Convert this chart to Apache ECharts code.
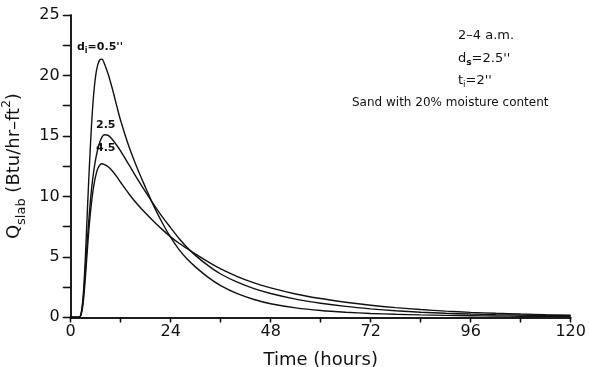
<!DOCTYPE html>
<html>
<head>
<meta charset="utf-8">
<script src="https://cdn.jsdelivr.net/npm/echarts@6/dist/echarts.min.js"></script>
<style>
  html, body { margin: 0; padding: 0; background: #fff; }
  #chart { width: 589px; height: 367px; }
</style>
</head>
<body>
<div id="chart"></div>
<script>
// Time after start (hours)
var hours = [0, 2, 2.5, 3, 3.5, 4, 4.5, 5, 5.5, 6, 6.5, 7, 7.5, 8, 9, 10, 11, 12, 14, 16, 18, 20, 22, 24, 26, 28, 30, 33, 36, 40, 44, 48, 54, 60, 66, 72, 78, 84, 90, 96, 102, 108, 114, 120];

// Slab heat flux (Btu/hr-ft2) for each insulation depth d_i
var qInsul05 = [0, 0, 0.3, 1.8, 4.8, 8.8, 12.6, 15.9, 18.4, 20.0, 20.9, 21.3, 21.35, 21.05, 20.1, 18.9, 17.55, 16.25, 14.1, 12.3, 10.7, 9.15, 7.8, 6.6, 5.6, 4.8, 4.15, 3.3, 2.62, 1.95, 1.47, 1.12, 0.78, 0.56, 0.42, 0.32, 0.25, 0.2, 0.16, 0.13, 0.11, 0.09, 0.08, 0.07];
var qInsul25 = [0, 0, 0.3, 1.5, 3.8, 6.4, 8.7, 10.6, 12.0, 13.1, 13.9, 14.5, 14.9, 15.1, 15.05, 14.7, 14.25, 13.75, 12.6, 11.45, 10.35, 9.3, 8.3, 7.4, 6.52, 5.76, 5.1, 4.27, 3.58, 2.9, 2.37, 1.97, 1.5, 1.16, 0.9, 0.7, 0.54, 0.42, 0.33, 0.27, 0.22, 0.18, 0.15, 0.13];
var qInsul45 = [0, 0, 0.2, 1.2, 3.2, 5.6, 7.8, 9.5, 10.8, 11.7, 12.3, 12.6, 12.7, 12.65, 12.45, 12.1, 11.65, 11.15, 10.2, 9.35, 8.6, 7.9, 7.25, 6.65, 6.12, 5.68, 5.22, 4.58, 4.0, 3.37, 2.85, 2.43, 1.93, 1.55, 1.25, 1.0, 0.8, 0.64, 0.51, 0.41, 0.33, 0.27, 0.22, 0.18];

var xTicks = [0, 24, 48, 72, 96, 120];
var yTicks = [0, 5, 10, 15, 20, 25];

function pairs(ys) {
  return hours.map(function (h, i) { return [h, ys[i]]; });
}

var FONT = 'DejaVu Sans';
var INK = '#111';

var chart = echarts.init(document.getElementById('chart'), null, { renderer: 'canvas' });

function curve(name, ys) {
  return {
    name: name,
    type: 'line',
    data: pairs(ys),
    smooth: 0.3,
    showSymbol: false,
    lineStyle: { color: INK, width: 1.4 },
    animation: false
  };
}

chart.setOption({
  backgroundColor: '#fff',
  animation: false,
  grid: { left: 70.7, right: 18.3, top: 15, bottom: 49.7, containLabel: false, outerBoundsMode: 'none' },
  xAxis: [
    {
      type: 'value', position: 'bottom', min: 0, max: 120, interval: 12,
      axisLine: { show: true, lineStyle: { color: INK, width: 1.5 } },
      axisTick: { show: true, inside: false, length: 5, lineStyle: { color: INK, width: 1.3 } },
      axisLabel: {
        color: INK, fontFamily: FONT, fontSize: 16, margin: 7,
        formatter: function (v) { return xTicks.indexOf(v) >= 0 ? String(v) : ''; }
      },
      splitLine: { show: false },
      name: 'Time (hours)', nameLocation: 'middle', nameGap: 34,
      nameTextStyle: { color: INK, fontFamily: FONT, fontSize: 18 }
    },
    {
      type: 'value', position: 'top', min: 0, max: 120, interval: 12,
      axisLine: { show: true, lineStyle: { color: INK, width: 1.5 } },
      axisTick: { show: true, inside: true, length: 5, lineStyle: { color: INK, width: 1.3 } },
      axisLabel: { show: false },
      splitLine: { show: false }
    }
  ],
  yAxis: [
    {
      type: 'value', position: 'left', min: 0, max: 25, interval: 2.5,
      axisLine: { show: true, lineStyle: { color: INK, width: 1.5 } },
      axisTick: { show: true, inside: false, length: 7, lineStyle: { color: INK, width: 1.3 } },
      axisLabel: {
        color: INK, fontFamily: FONT, fontSize: 16, margin: 11,
        formatter: function (v) { return yTicks.indexOf(v) >= 0 ? String(v) : ''; }
      },
      splitLine: { show: false },
      name: '{q|Q}{sub|slab}{q| (Btu/hr\u2013ft}{sup|2}{q|)}',
      nameLocation: 'middle', nameGap: 39, nameRotate: 90,
      nameTextStyle: {
        color: INK, fontFamily: FONT, fontSize: 18,
        rich: {
          q: { color: INK, fontFamily: FONT, fontSize: 18, lineHeight: 28, verticalAlign: 'middle' },
          sub: { color: INK, fontFamily: FONT, fontSize: 13, lineHeight: 28, verticalAlign: 'bottom' },
          sup: { color: INK, fontFamily: FONT, fontSize: 12, lineHeight: 28, verticalAlign: 'top' }
        }
      }
    },
    {
      type: 'value', position: 'right', min: 0, max: 25, interval: 2.5,
      axisLine: { show: true, lineStyle: { color: INK, width: 1.5 } },
      axisTick: { show: true, inside: true, length: 8, lineStyle: { color: INK, width: 1.3 } },
      axisLabel: { show: false },
      splitLine: { show: false }
    }
  ],
  series: [
    curve('0.5', qInsul05),
    curve('2.5', qInsul25),
    curve('4.5', qInsul45)
  ],
  graphic: [
    // curve labels
    {
      type: 'text', left: 77, top: 42,
      style: {
        text: '{b|d}{s|i}{b|=0.5\'\'}', fill: INK,
        rich: {
          b: { fontFamily: FONT, fontSize: 11, fontWeight: 'bold', fill: INK, lineHeight: 14, verticalAlign: 'middle' },
          s: { fontFamily: FONT, fontSize: 8, fontWeight: 'bold', fill: INK, lineHeight: 14, verticalAlign: 'bottom' }
        }
      }
    },
    { type: 'text', left: 96, top: 120, style: { text: '2.5', fill: INK, font: 'bold 11px "DejaVu Sans"' } },
    { type: 'text', left: 96, top: 143, style: { text: '4.5', fill: INK, font: 'bold 11px "DejaVu Sans"' } },
    // case description
    { type: 'text', left: 458, top: 29, style: { text: '2\u20134 a.m.', fill: INK, font: '13px "DejaVu Sans"' } },
    {
      type: 'text', left: 458, top: 52,
      style: {
        text: '{n|d}{s|s}{n|=2.5\'\'}', fill: INK,
        rich: {
          n: { fontFamily: FONT, fontSize: 13, fill: INK, lineHeight: 17, verticalAlign: 'middle' },
          s: { fontFamily: FONT, fontSize: 9, fontWeight: 'bold', fill: INK, lineHeight: 17, verticalAlign: 'bottom' }
        }
      }
    },
    {
      type: 'text', left: 458, top: 74,
      style: {
        text: '{n|t}{s|i}{n|=2\'\'}', fill: INK,
        rich: {
          n: { fontFamily: FONT, fontSize: 13, fill: INK, lineHeight: 17, verticalAlign: 'middle' },
          s: { fontFamily: FONT, fontSize: 9, fill: INK, lineHeight: 17, verticalAlign: 'bottom' }
        }
      }
    },
    { type: 'text', left: 352, top: 97, style: { text: 'Sand with 20% moisture content', fill: INK, font: '12px "DejaVu Sans"' } }
  ]
});
</script>
</body>
</html>
